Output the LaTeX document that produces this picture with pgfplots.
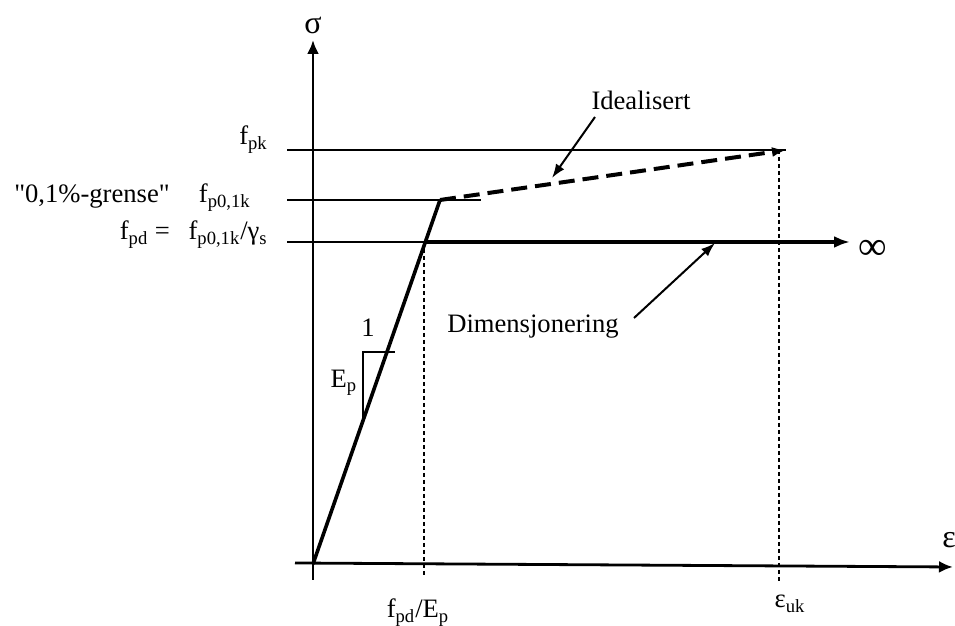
\documentclass[border=0pt]{standalone}
\usepackage{fontspec}
\setmainfont{Liberation Serif}
\newfontfamily\plainserif{Liberation Serif}
\usepackage{pgfplots}
\pgfplotsset{compat=1.18}
\usetikzlibrary{arrows.meta}
\begin{document}
\fontsize{13.3}{16}\selectfont
\begin{tikzpicture}
\begin{axis}[scale only axis, width=477.5pt, height=313pt,
  xmin=-313, xmax=642, ymin=-62, ymax=564, hide axis, clip=false,
  every node/.append style={font=\fontsize{13.3}{16}\selectfont, inner sep=0pt}]
\coordinate (SW) at (rel axis cs:0,0);
\coordinate (NE) at (rel axis cs:1,1);
% axes
\addplot[black, line width=1.4pt, -{Latex[length=7pt,width=6pt]}] coordinates {(0,-16) (0,524)};
\addplot[black, line width=1.4pt, -{Latex[length=7pt,width=6pt]}] coordinates {(-18,1) (640,-3)};
% thin horizontal reference lines
\addplot[black, line width=0.9pt] coordinates {(-26,414) (473,414)};
\addplot[black, line width=0.9pt] coordinates {(-26,364) (168,364)};
\addplot[black, line width=0.9pt] coordinates {(-26,322) (112,322)};
% linear elastic branch
\addplot[black, line width=1.8pt] coordinates {(0,0) (127,364)};
% design branch
\addplot[black, line width=1.9pt, -{Latex[length=8pt,width=6pt]}] coordinates {(112,322) (537,322)};
% idealised branch
\addplot[black, line width=2pt, dash pattern=on 8pt off 4pt, -{Latex[length=7pt,width=5pt]}] coordinates {(127,364) (473,414)};
% dotted verticals
\addplot[black, line width=0.9pt, dash pattern=on 2pt off 1.5pt] coordinates {(111,322) (111,-14)};
\addplot[black, line width=0.9pt, dash pattern=on 2pt off 1.5pt] coordinates {(466,414) (466,-18)};
% slope triangle
\addplot[black, line width=0.9pt] coordinates {(50,144) (50,212) (82,212)};
% annotation arrows
\addplot[black, line width=1pt, -{Latex[length=7pt,width=5pt]}] coordinates {(282,447) (239,386)};
\addplot[black, line width=1pt, -{Latex[length=7pt,width=5pt]}] coordinates {(321,246) (402,321)};
% labels
\node[anchor=center] at (axis cs:0,539) {\fontsize{16}{18}\selectfont σ};
\node[anchor=center] at (axis cs:636,24) {\fontsize{16}{18}\selectfont ε};
\node[anchor=base east] at (axis cs:-36,419) {f\textsubscript{pk}};
\node[anchor=base east] at (axis cs:-53,361) {{\plainserif"}0,1\%-grense{\plainserif"}\hspace{1.1em}f\textsubscript{p0,1k}};
\node[anchor=base east] at (axis cs:-36,324) {f\textsubscript{pd}\hspace{0.25em}=\hspace{0.7em}f\textsubscript{p0,1k}/γ\textsubscript{s}};
\node[anchor=center] at (axis cs:328,464) {Idealisert};
\node[anchor=center] at (axis cs:220,237) {Dimensjonering};
\node[anchor=center] at (axis cs:560,314) {\fontsize{20}{22}\selectfont ∞};
\node[anchor=center] at (axis cs:55,236) {1};
\node[anchor=center] at (axis cs:31,181) {E\textsubscript{p}};
\node[anchor=base] at (axis cs:105,-54) {f\textsubscript{pd}/E\textsubscript{p}};
\node[anchor=base] at (axis cs:477,-44) {ε\textsubscript{uk}};
\end{axis}
\pgfresetboundingbox
\useasboundingbox (SW) rectangle (NE);
\end{tikzpicture}
\end{document}
